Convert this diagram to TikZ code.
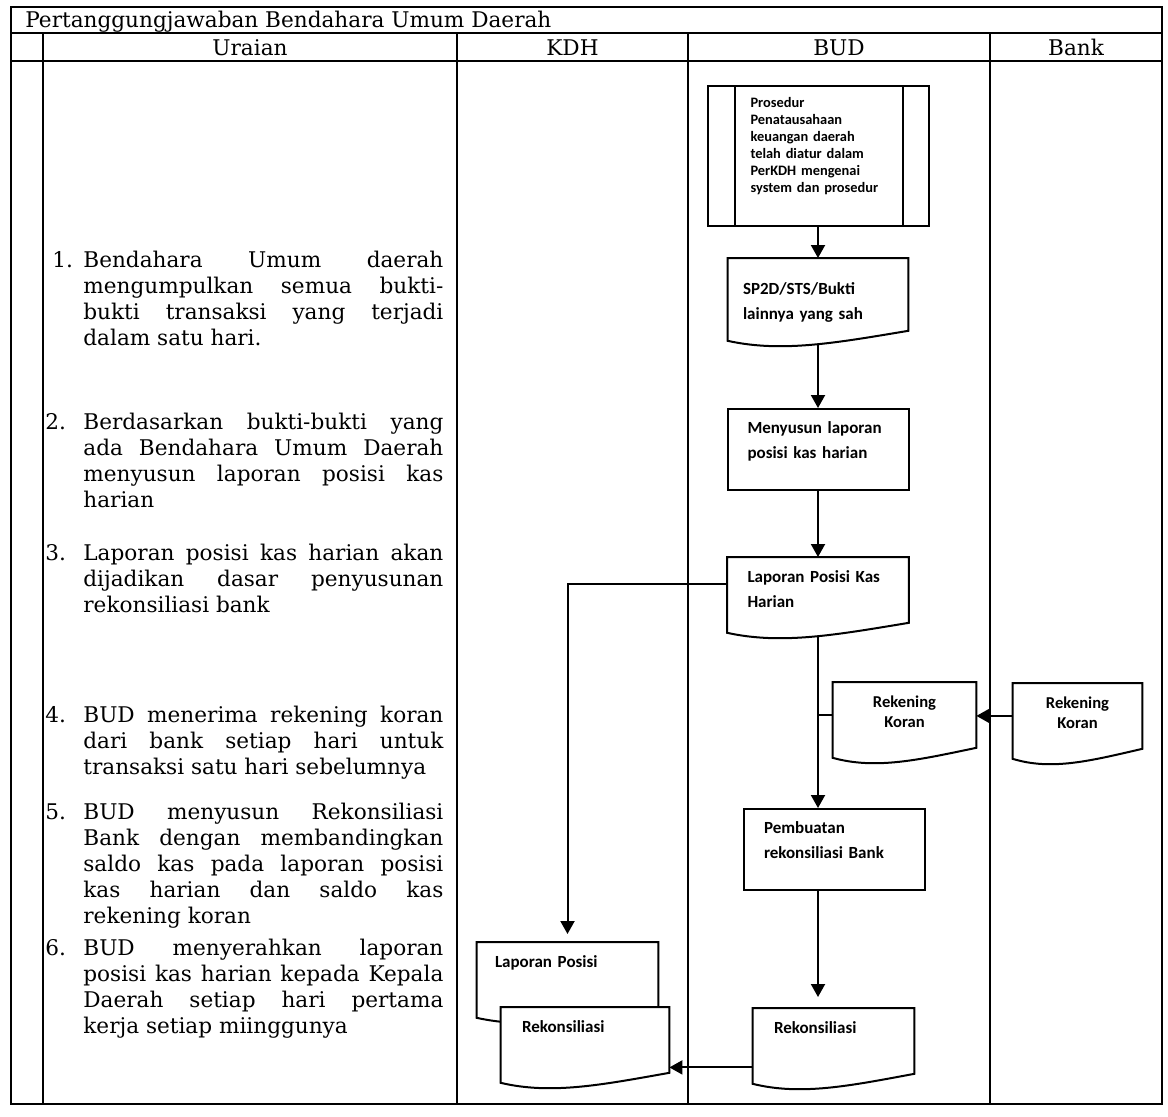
\documentclass[tikz,border=0pt]{standalone}
\usepackage{fontspec}
\setmainfont{DejaVu Serif}
\newfontfamily\flowfont{Carlito}
\usetikzlibrary{arrows.meta, calc, positioning}

\tikzset{
  tabel/.style={line width=0.8pt},
  alur/.style={line width=1pt},
  panah/.style={alur, -{Triangle[length=6.5pt, width=7pt]}},
  kepala/.style={anchor=base, inner sep=0pt, font=\fontsize{10.8}{13}\selectfont},
  uraian/.style={anchor=base west, inner sep=0pt, font=\fontsize{10.8}{13}\selectfont},
  proses/.style={draw, line width=1pt, anchor=north, inner ysep=0pt, inner xsep=10pt,
    text width=70.5pt, align=left, text height=12pt, text depth=28.5pt,
    font={\fontsize{8.5}{12.5}\flowfont\bfseries}},
  dokumen/.style={fill=white, anchor=north, inner ysep=0pt, inner xsep=10pt,
    text width=70.5pt, align=left, text height=12.5pt, text depth=20pt,
    font={\fontsize{8.5}{12.5}\flowfont\bfseries}}
}

% outline of a document symbol round a node
\newcommand{\dokgaris}[1]{%
  \draw[alur] (#1.north west) -- (#1.north east) -- (#1.south east)
    .. controls ($(#1.south east)!0.4!(#1.south west)+(0,-6pt)$)
    and ($(#1.south west)!0.3!(#1.south east)+(0,-11pt)$) .. ([yshift=-5pt]#1.south west)
    -- cycle;}

% justified uraian item with hanging number
\newcommand{\butir}[2]{\parbox[t]{199pt}{\tolerance=10000 \pretolerance=10000
  \hyphenpenalty=10000 \hbadness=10000 \hangindent=19pt \hangafter=1
  \noindent\makebox[19pt][l]{#1}#2}}

\begin{document}
\begin{tikzpicture}[x=0.5pt, y=-0.5pt]
    \fill[white] (0,0) rectangle (1168,1116);
    \useasboundingbox (0,0) rectangle (1168,1116);

    % table
    \draw[tabel] (11,7) rectangle (1162,1104);
    \draw[tabel] (11,33) -- (1162,33);
    \draw[tabel] (11,61) -- (1162,61);
    \foreach \x in {43,457,688,990}
        \draw[tabel] (\x,33) -- (\x,1104);

    \node[kepala, anchor=base west] (judul) at (25,27) {Pertanggungjawaban Bendahara Umum Daerah};
    \node[kepala] (huraian) at (250,55) {Uraian};
    \node[kepala] (hkdh) at (572.5,55) {KDH};
    \node[kepala] (hbud) at (839,55) {BUD};
    \node[kepala] (hbank) at (1076,55) {Bank};

    % uraian
    \node[uraian] (u1) at (45,267) {\butir{\hspace{3.5pt}1.}{Bendahara Umum daerah\linebreak mengumpulkan semua bukti-\linebreak bukti transaksi yang terjadi\linebreak dalam satu hari.}};
    \node[uraian] (u2) at (45,429) {\butir{2.}{Berdasarkan bukti-bukti yang\linebreak ada Bendahara Umum Daerah\linebreak menyusun laporan posisi kas\linebreak harian}};
    \node[uraian] (u3) at (45,560) {\butir{3.}{Laporan posisi kas harian akan\linebreak dijadikan dasar penyusunan\linebreak rekonsiliasi bank}};
    \node[uraian] (u4) at (45,722) {\butir{4.}{BUD menerima rekening koran\linebreak dari bank setiap hari untuk\linebreak transaksi satu hari sebelumnya}};
    \node[uraian] (u5) at (45,819) {\butir{5.}{BUD menyusun Rekonsiliasi\linebreak Bank dengan membandingkan\linebreak saldo kas pada laporan posisi\linebreak kas harian dan saldo kas\linebreak rekening koran}};
    \node[uraian] (u6) at (45,955) {\butir{6.}{BUD menyerahkan laporan\linebreak posisi kas harian kepada Kepala\linebreak Daerah setiap hari pertama\linebreak kerja setiap miinggunya}};

    % BUD
    \node[proses, inner xsep=21.5pt, text width=67.5pt, text height=10.75pt, text depth=59.25pt,
        font={\fontsize{7.2}{8.5}\flowfont\bfseries}] (prosedur) at (818,85)
        {Prosedur\\Penatausahaan\\keuangan daerah\\telah diatur dalam\\PerKDH mengenai\\system dan prosedur};
    \draw[alur] ([xshift=14pt]prosedur.north west) -- ([xshift=14pt]prosedur.south west);
    \draw[alur] ([xshift=-13.5pt]prosedur.north east) -- ([xshift=-13.5pt]prosedur.south east);

    \node[dokumen, inner xsep=7.5pt, text width=75pt, text height=18pt, text depth=18pt] (sp2d) at (818,258)
        {SP2D/STS/Bukti\\lainnya yang sah};
    \dokgaris{sp2d}
    \node[proses] (menyusun) at (818,408) {Menyusun laporan\\posisi kas harian};
    \node[dokumen] (laporan) at (818,557) {Laporan Posisi Kas\\Harian};
    \dokgaris{laporan}
    \node[dokumen, align=center, inner xsep=5pt, text width=61.5pt,
        font={\fontsize{8.3}{10}\flowfont\bfseries}] (rekbud) at (904.5,682) {Rekening\\Koran};
    \dokgaris{rekbud}
    \node[proses] (pembuatan) at (834.5,808) {Pembuatan\\rekonsiliasi Bank};
    \node[dokumen, inner xsep=10.5pt, text width=59.5pt] (rekon) at (833.5,1008) {Rekonsiliasi};
    \dokgaris{rekon}

    % Bank
    \node[dokumen, align=center, inner xsep=5pt, text width=54.5pt,
        font={\fontsize{8.3}{10}\flowfont\bfseries}] (rekbank) at (1077.5,683) {Rekening\\Koran};
    \dokgaris{rekbank}

    % KDH
    \node[dokumen, inner xsep=9pt, text width=72.5pt] (kdhlap) at (567.5,942) {Laporan Posisi};
    \dokgaris{kdhlap}
    \node[dokumen, inner xsep=10.5pt, text width=63pt] (kdhrek) at (585,1007) {Rekonsiliasi};
    \dokgaris{kdhrek}

    % alur
    \draw[panah] (prosedur.south) -- (sp2d.north);
    \draw[panah] ([yshift=-7pt]sp2d.south) -- (menyusun.north);
    \draw[panah] (menyusun.south) -- (laporan.north);
    \draw[panah, shorten >=4pt] ([yshift=3pt]laporan.west) -| (kdhlap.north);
    \draw[panah] ([yshift=-7pt]laporan.south) -- (laporan.south |- pembuatan.north);
    \draw[alur] (rekbud.west) -- (rekbud.west -| laporan.south);
    \draw[panah] (rekbank.west) -- (rekbank.west -| rekbud.east);
    \draw[panah, shorten >=5.5pt] (pembuatan.south -| laporan.south) -- (rekon.north -| laporan.south);
    \draw[panah] ([yshift=-13.25pt]rekon.west) -- ([yshift=-13.25pt]rekon.west -| kdhrek.east);
\end{tikzpicture}
\end{document}
